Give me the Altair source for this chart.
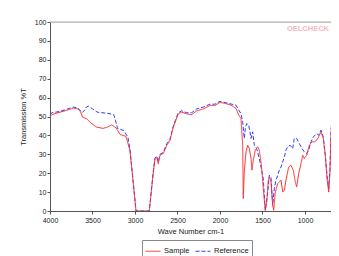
import altair as alt
import pandas as pd

# Sample (red) spectrum: wavenumber (cm-1) and %T
sample_wn = [4000, 3976, 3906, 3824, 3726, 3671, 3647, 3615, 3568, 3518, 3451, 3376, 3318, 3274,
             3224, 3176, 3106, 3059, 3020, 2988, 2832, 2785, 2765, 2745, 2726, 2706, 2667, 2627,
             2588, 2549, 2491, 2451, 2392, 2333, 2274, 2196, 2118, 2059, 2000, 1950, 1906, 1870,
             1812, 1780, 1753, 1733, 1726, 1714, 1694, 1674, 1655, 1635, 1624, 1608, 1585, 1556,
             1538, 1518, 1506, 1491, 1467, 1450, 1432, 1420, 1400, 1380, 1368, 1349, 1321, 1282,
             1262, 1243, 1224, 1192, 1165, 1138, 1114, 1098, 1074, 1047, 1027, 1008, 980, 949,
             918, 890, 862, 839, 812, 785, 761, 741, 721, 706, 694, 682, 667, 650, 635, 615, 600]
sample_t = [50, 51, 52, 53, 54.4, 54, 53, 49.6, 48.8, 46.5, 44.4, 43.7, 44.5, 45.6,
            44, 40.5, 39.5, 32, 14.5, 0, 0, 20, 27.7, 28.6, 25, 29.5, 30.4, 34.7,
            37.4, 44.4, 51.4, 52.3, 51.4, 51, 53, 54, 55.8, 55.8, 57.5, 57, 56.5, 56,
            54.3, 50.7, 49, 34.8, 6.6, 20.7, 31.3, 34.8, 33, 27.8, 21.6, 26.9, 32.2, 34,
            32.2, 26, 20.7, 11.9, 0.4, 4.8, 16.3, 18, 15.4, 3, 0.4, 10, 14.5, 16.3,
            10, 11, 16.3, 23.3, 24.2, 21.6, 15.4, 12.7, 19.8, 25.1, 29.5, 27.8, 29.5, 34.8,
            36.6, 36.6, 37.5, 39.2, 41.9, 38.4, 29.5, 17.2, 10, 20.7, 40, 49, 48, 46.3, 48, 43.7, 41.9]

# Reference (blue dashed) spectrum
ref_wn = [4000, 3976, 3906, 3824, 3726, 3671, 3623, 3590, 3571, 3548, 3500, 3444, 3325, 3250,
          3230, 3206, 3131, 3083, 3059, 3020, 2988, 2832, 2785, 2765, 2745, 2726, 2706, 2667,
          2627, 2588, 2549, 2491, 2451, 2392, 2333, 2274, 2196, 2118, 2059, 2000, 1906, 1812,
          1780, 1753, 1733, 1714, 1702, 1686, 1663, 1647, 1635, 1616, 1596, 1568, 1538, 1506,
          1491, 1467, 1438, 1420, 1400, 1380, 1361, 1341, 1321, 1302, 1282, 1262, 1243, 1224,
          1204, 1176, 1145, 1126, 1098, 1067, 1035, 1008, 980, 957, 929, 902, 863, 839, 812,
          785, 761, 741, 721, 706, 694, 682, 659, 643, 624, 600]
ref_t = [51, 52, 52.5, 53.5, 55, 54.5, 52, 53.5, 55, 55.5, 54, 52.3, 51.7, 51,
         48, 43.7, 42.6, 39, 32.5, 15, 0, 0, 21, 28, 29, 26, 30, 31,
         35.5, 38, 45, 52, 53, 52, 52, 54, 55, 56.5, 56.5, 58, 57, 56,
         53.4, 51.6, 47.2, 38.4, 43.7, 46.3, 45.4, 41.9, 38.4, 41.9, 34.8, 33, 27.8, 20.7,
         17.2, 0.4, 10, 18.9, 18, 3, 11.9, 16.3, 18.9, 21.6, 23.3, 26, 28.6, 32.2,
         34, 34.8, 33, 38.4, 38.4, 35.7, 33, 31.3, 30.4, 32.2, 36.6, 39.2, 41, 40.1, 42.8,
         39.2, 29.5, 18.9, 11.9, 22.5, 41.9, 49.8, 49, 47.2, 48, 44.5]

series_names = ["Sample", "Reference"]
series_colors = ["#ff2a2a", "#2f3cff"]
x_ticks = [4000, 3500, 3000, 2500, 2000, 1500, 1000]
y_ticks = list(range(0, 101, 10))

df_s = pd.DataFrame({"wn": sample_wn, "t": sample_t, "series": "Sample"})
df_r = pd.DataFrame({"wn": ref_wn, "t": ref_t, "series": "Reference"})

FONT = "Liberation Sans"
x_enc = alt.X("wn:Q", scale=alt.Scale(domain=[4000, 694], nice=False, zero=False),
              axis=alt.Axis(title="Wave Number cm-1", values=x_ticks,
                            format="d", labelFlush=False,
                            grid=False, tickSize=3, labelPadding=2, titlePadding=4,
                            domainColor="#555", tickColor="#555", labelColor="#222", titleColor="#222",
                            labelFontSize=7, titleFontSize=7.5, titleFontWeight="normal",
                            labelFont=FONT, titleFont=FONT))
y_enc = alt.Y("t:Q", scale=alt.Scale(domain=[0, 100], nice=False),
              axis=alt.Axis(title="Transmission %T", values=y_ticks,
                            labelFlush=False,
                            grid=False, tickSize=3, labelPadding=1, titlePadding=7,
                            domainColor="#555", tickColor="#555", labelColor="#222", titleColor="#222",
                            labelFontSize=7, titleFontSize=7.5, titleFontWeight="normal",
                            labelFont=FONT, titleFont=FONT))
color_enc = alt.Color("series:N", scale=alt.Scale(domain=series_names, range=series_colors),
                      legend=alt.Legend(title=None, orient="none", legendX=92, legendY=218,
                                        direction="horizontal", symbolType="stroke",
                                        symbolSize=225, symbolStrokeWidth=1,
                                        labelFontSize=7.5, labelFont=FONT, labelColor="#222",
                                        labelOffset=3, strokeColor="#888", padding=3,
                                        columnPadding=3))
dash_enc = alt.StrokeDash("series:N", scale=alt.Scale(domain=series_names, range=[[1, 0], [4, 2]]),
                          legend=None)

ref_line = alt.Chart(df_r).mark_line(strokeWidth=1, clip=True).encode(
    x=x_enc, y=y_enc, color=color_enc, strokeDash=dash_enc, order="wn:Q")
sample_line = alt.Chart(df_s).mark_line(strokeWidth=1, clip=True).encode(
    x=x_enc, y=y_enc, color=color_enc, strokeDash=dash_enc, order="wn:Q")

top_border = alt.Chart(pd.DataFrame({"k": [0]})).mark_rule(color="#aaa", strokeWidth=1).encode(
    x=alt.value(0), x2=alt.value(281), y=alt.value(0))

watermark = alt.Chart(pd.DataFrame({"label": ["OELCHECK"]})).mark_text(
    align="right", baseline="middle", fontSize=7.5, fontWeight="bold", font=FONT,
    color="#f3b9c0").encode(x=alt.value(279), y=alt.value(7), text="label:N")

chart = alt.layer(top_border, ref_line, sample_line, watermark).properties(
    width=281, height=189,
    autosize=alt.AutoSizeParams(type="none"),
    padding={"left": 42, "top": 14, "right": 0, "bottom": 45},
).configure_view(strokeWidth=0).configure(background="white")

chart.save("out.html", embed_options={"renderer": "svg", "actions": False})
